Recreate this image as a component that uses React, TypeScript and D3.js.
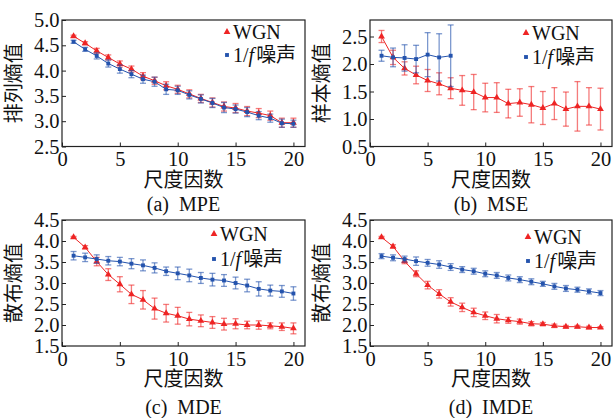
import React, { useEffect, useRef } from 'react';
import * as d3 from 'd3';

// scale factors 1..20
const scaleFactors = d3.range(1, 21);
const xTicks = [0, 5, 10, 15, 20];

// (a) MPE
const mpeWgn = [4.68, 4.54, 4.39, 4.26, 4.13, 4.03, 3.89, 3.8, 3.7, 3.63, 3.54, 3.45, 3.37, 3.29, 3.26, 3.2, 3.16, 3.11, 2.97, 2.97];
const mpeWgnErr = [0.02, 0.03, 0.05, 0.05, 0.06, 0.06, 0.07, 0.07, 0.08, 0.08, 0.08, 0.08, 0.09, 0.09, 0.09, 0.09, 0.09, 0.09, 0.09, 0.09];
const mpePink = [4.57, 4.42, 4.29, 4.14, 4.03, 3.93, 3.83, 3.78, 3.63, 3.61, 3.52, 3.44, 3.36, 3.27, 3.24, 3.18, 3.11, 3.06, 2.96, 2.95];
const mpePinkErr = [0.03, 0.04, 0.06, 0.07, 0.08, 0.07, 0.08, 0.09, 0.1, 0.08, 0.08, 0.08, 0.09, 0.1, 0.08, 0.09, 0.08, 0.08, 0.08, 0.07];

// (b) MSE (1/f only defined up to scale 7)
const mseWgn = [2.5, 2.12, 1.92, 1.8, 1.7, 1.64, 1.56, 1.52, 1.49, 1.39, 1.39, 1.28, 1.3, 1.26, 1.2, 1.28, 1.18, 1.23, 1.23, 1.18];
const mseWgnErr = [0.11, 0.13, 0.12, 0.16, 0.2, 0.2, 0.19, 0.27, 0.32, 0.26, 0.27, 0.26, 0.25, 0.33, 0.3, 0.29, 0.31, 0.45, 0.34, 0.38];
const msePink = [2.15, 2.12, 2.11, 2.09, 2.17, 2.12, 2.15];
const msePinkErr = [0.1, 0.17, 0.24, 0.25, 0.4, 0.43, 0.56];

// (c) MDE
const mdeWgn = [4.09, 3.85, 3.51, 3.2, 2.97, 2.73, 2.6, 2.39, 2.28, 2.22, 2.14, 2.1, 2.06, 2.02, 2.03, 2.0, 2.0, 1.98, 1.96, 1.92];
const mdeWgnErr = [0.02, 0.04, 0.1, 0.14, 0.18, 0.22, 0.22, 0.25, 0.21, 0.2, 0.16, 0.14, 0.14, 0.14, 0.12, 0.09, 0.1, 0.07, 0.09, 0.13];
const mdePink = [3.65, 3.61, 3.57, 3.53, 3.51, 3.46, 3.42, 3.36, 3.28, 3.23, 3.18, 3.12, 3.08, 3.06, 3.0, 2.94, 2.86, 2.82, 2.8, 2.75];
const mdePinkErr = [0.1, 0.1, 0.1, 0.1, 0.1, 0.12, 0.13, 0.12, 0.1, 0.15, 0.15, 0.13, 0.15, 0.14, 0.14, 0.15, 0.17, 0.13, 0.14, 0.16];

// (d) IMDE
const imdeWgn = [4.09, 3.87, 3.52, 3.22, 2.95, 2.74, 2.55, 2.42, 2.3, 2.22, 2.15, 2.11, 2.08, 2.03, 2.02, 1.98, 1.96, 1.96, 1.94, 1.94];
const imdeWgnErr = [0.02, 0.04, 0.06, 0.07, 0.09, 0.1, 0.1, 0.1, 0.1, 0.09, 0.1, 0.07, 0.06, 0.05, 0.04, 0.04, 0.03, 0.03, 0.03, 0.02];
const imdePink = [3.64, 3.6, 3.57, 3.52, 3.48, 3.44, 3.38, 3.32, 3.28, 3.22, 3.18, 3.12, 3.08, 3.03, 2.98, 2.92, 2.87, 2.84, 2.8, 2.76];
const imdePinkErr = [0.06, 0.07, 0.07, 0.1, 0.08, 0.09, 0.08, 0.07, 0.07, 0.07, 0.07, 0.07, 0.07, 0.07, 0.06, 0.07, 0.07, 0.06, 0.06, 0.06];

const panels = [
  { caption: '(a)  MPE', ylabel: '排列熵值', yDomain: [2.5, 5.0], yTicks: [2.5, 3.0, 3.5, 4.0, 4.5, 5.0],
    wgn: mpeWgn, wgnErr: mpeWgnErr, pink: mpePink, pinkErr: mpePinkErr,
    box: { left: 62, top: 20, right: 305, bottom: 146.5 }, legend: { x: 227, y1: 32, y2: 55 }, capY: 211 },
  { caption: '(b)  MSE', ylabel: '样本熵值', yDomain: [0.5, 2.8], yTicks: [0.5, 1.0, 1.5, 2.0, 2.5],
    wgn: mseWgn, wgnErr: mseWgnErr, pink: msePink, pinkErr: msePinkErr,
    box: { left: 370, top: 20, right: 612, bottom: 146.5 }, legend: { x: 526, y1: 33, y2: 57 }, capY: 211 },
  { caption: '(c)  MDE', ylabel: '散布熵值', yDomain: [1.5, 4.5], yTicks: [1.5, 2.0, 2.5, 3.0, 3.5, 4.0, 4.5],
    wgn: mdeWgn, wgnErr: mdeWgnErr, pink: mdePink, pinkErr: mdePinkErr,
    box: { left: 62, top: 220, right: 305, bottom: 346 }, legend: { x: 214, y1: 234, y2: 259 }, capY: 414 },
  { caption: '(d)  IMDE', ylabel: '散布熵值', yDomain: [1.5, 4.5], yTicks: [1.5, 2.0, 2.5, 3.0, 3.5, 4.0, 4.5],
    wgn: imdeWgn, wgnErr: imdeWgnErr, pink: imdePink, pinkErr: imdePinkErr,
    box: { left: 370, top: 220, right: 612, bottom: 346 }, legend: { x: 528, y1: 237, y2: 261 }, capY: 414 },
];

const RED = '#ee2424';
const BLUE = '#2453ad';
const SERIF = "'Liberation Serif', 'Times New Roman', serif";
const CJK = "'Liberation Serif', 'Noto Sans CJK SC', serif";

const App = () => {
  const ref = useRef<SVGSVGElement>(null);

  useEffect(() => {
    const svg = d3.select(ref.current);
    svg.selectAll('*').remove();

    panels.forEach((p) => {
      const { left, top, right, bottom } = p.box;
      const x = d3.scaleLinear().domain([0, 21]).range([left, right]);
      const y = d3.scaleLinear().domain(p.yDomain).range([bottom, top]);
      const g = svg.append('g');

      // axes with inward ticks
      const xAxis = g.append('g')
        .attr('transform', `translate(0,${bottom})`)
        .call(d3.axisBottom(x).tickValues(xTicks).tickSizeInner(-4).tickSizeOuter(0).tickPadding(5));
      const yAxis = g.append('g')
        .attr('transform', `translate(${left},0)`)
        .call(d3.axisLeft(y).tickValues(p.yTicks).tickFormat(d3.format('.1f')).tickSizeInner(-4).tickSizeOuter(0).tickPadding(2.5));
      [xAxis, yAxis].forEach((a) => {
        a.select('.domain').remove();
        a.selectAll('text').attr('font-family', SERIF).attr('font-size', 20.5).attr('fill', '#111');
        a.selectAll('line').attr('stroke', '#222');
      });

      g.append('rect')
        .attr('x', left).attr('y', top)
        .attr('width', right - left).attr('height', bottom - top)
        .attr('fill', 'none').attr('stroke', '#222').attr('stroke-width', 1.2);

      const series = [
        { vals: p.wgn, errs: p.wgnErr, color: RED, sym: d3.symbolTriangle, size: 20 },
        { vals: p.pink, errs: p.pinkErr, color: BLUE, sym: d3.symbolSquare, size: 15 },
      ];

      series.forEach((s) => {
        const pts = s.vals.map((v, i) => ({ k: scaleFactors[i], v, e: s.errs[i] }));
        // error bars
        const eb = g.append('g').attr('stroke', s.color).attr('stroke-opacity', 0.6).attr('stroke-width', 1.3);
        pts.forEach((d) => {
          const cx = x(d.k);
          eb.append('line').attr('x1', cx).attr('x2', cx).attr('y1', y(d.v - d.e)).attr('y2', y(d.v + d.e));
          eb.append('line').attr('x1', cx - 3).attr('x2', cx + 3).attr('y1', y(d.v - d.e)).attr('y2', y(d.v - d.e));
          eb.append('line').attr('x1', cx - 3).attr('x2', cx + 3).attr('y1', y(d.v + d.e)).attr('y2', y(d.v + d.e));
        });
        const line = d3.line<any>().x((d) => x(d.k)).y((d) => y(d.v));
        g.append('path').datum(pts)
          .attr('fill', 'none').attr('stroke', s.color).attr('stroke-width', 1).attr('d', line);
        g.selectAll(null).data(pts).enter().append('path')
          .attr('transform', (d) => `translate(${x(d.k)},${y(d.v)})`)
          .attr('d', d3.symbol().type(s.sym).size(s.size)())
          .attr('fill', s.color);
      });

      // legend
      const lg = g.append('g');
      const rows = [
        { y: p.legend.y1, color: RED, sym: d3.symbolTriangle, size: 20, label: 'WGN' },
        { y: p.legend.y2, color: BLUE, sym: d3.symbolSquare, size: 15, label: '' },
      ];
      rows.forEach((r) => {
        lg.append('path')
          .attr('transform', `translate(${p.legend.x},${r.y})`)
          .attr('d', d3.symbol().type(r.sym).size(r.size)())
          .attr('fill', r.color);
        const t = lg.append('text')
          .attr('x', p.legend.x + 6).attr('y', r.y + 7)
          .attr('font-family', CJK).attr('font-size', 20).attr('fill', '#111');
        if (r.label) {
          t.text(r.label);
        } else {
          t.append('tspan').text('1/');
          t.append('tspan').attr('font-style', 'italic').text('f');
          t.append('tspan').attr('dx', 2).text('噪声');
        }
      });

      // axis titles and caption
      const cx = (left + right) / 2;
      g.append('text').attr('x', cx).attr('y', bottom + 40).attr('text-anchor', 'middle')
        .attr('font-family', CJK).attr('font-size', 20).attr('fill', '#111').text('尺度因数');
      g.append('text').attr('x', cx).attr('y', p.capY).attr('text-anchor', 'middle')
        .attr('font-family', SERIF).attr('font-size', 20).attr('fill', '#111').attr('xml:space', 'preserve')
        .text(p.caption);
      g.append('text')
        .attr('transform', `translate(${left - 41},${(top + bottom) / 2}) rotate(-90)`)
        .attr('text-anchor', 'middle')
        .attr('font-family', CJK).attr('font-size', 20).attr('fill', '#111').text(p.ylabel);
    });
  }, []);

  return (
    <svg ref={ref} width={614} height={418}
      style={{ position: 'absolute', left: 0, top: 0, background: '#fff' }} />
  );
};

export default App;
